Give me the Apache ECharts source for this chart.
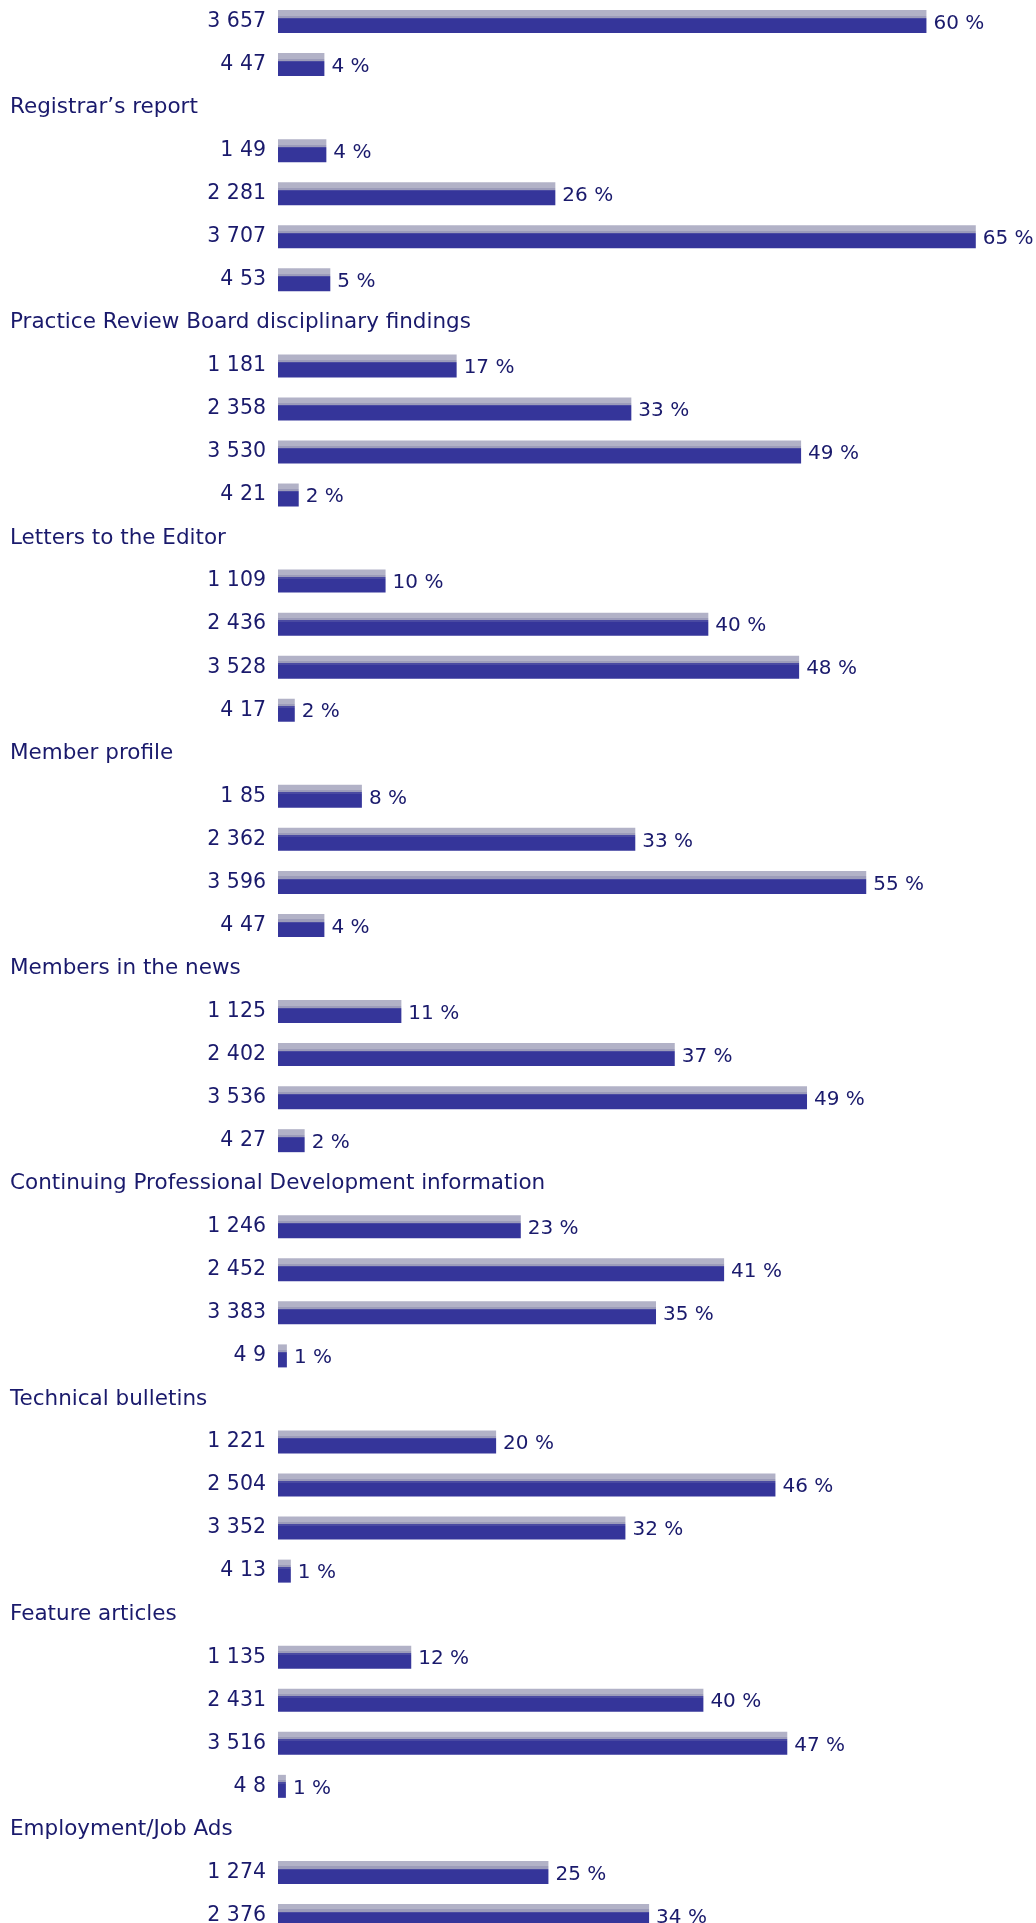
<!DOCTYPE html>
<html>
<head>
<meta charset="utf-8">
<title>Readership survey</title>
<script src="https://cdn.jsdelivr.net/npm/echarts@6/dist/echarts.min.js"></script>
<style>
  html, body { margin: 0; padding: 0; background: #fff; overflow: hidden; }
  /* chart is a little taller than the window, last row is cut like in the original */
  #bar_chart { width: 1036px; height: 1937px; }
</style>
</head>
<body>
<div id="bar_chart"></div>
<script>
// group titles (first group is cut off at the top, its title is not visible)
const groupTitles = [
  '',
  'Registrar’s report',
  'Practice Review Board disciplinary findings',
  'Letters to the Editor',
  'Member profile',
  'Members in the news',
  'Continuing Professional Development information',
  'Technical bulletins',
  'Feature articles',
  'Employment/Job Ads'
]
// answer number of each bar
const answerNos = [
  [3, 4],
  [1, 2, 3, 4],
  [1, 2, 3, 4],
  [1, 2, 3, 4],
  [1, 2, 3, 4],
  [1, 2, 3, 4],
  [1, 2, 3, 4],
  [1, 2, 3, 4],
  [1, 2, 3, 4],
  [1, 2]
]
// number of answers
const counts = [
  [657, 47],
  [49, 281, 707, 53],
  [181, 358, 530, 21],
  [109, 436, 528, 17],
  [85, 362, 596, 47],
  [125, 402, 536, 27],
  [246, 452, 383, 9],
  [221, 504, 352, 13],
  [135, 431, 516, 8],
  [274, 376]
]
// percent labels
const percents = [
  [60, 4],
  [4, 26, 65, 5],
  [17, 33, 49, 2],
  [10, 40, 48, 2],
  [8, 33, 55, 4],
  [11, 37, 49, 2],
  [23, 41, 35, 1],
  [20, 46, 32, 1],
  [12, 40, 47, 1],
  [25, 34]
]

const textColor = '#1a1a6c'
const font = 'DejaVu Sans'

// one row per title and per bar
let rows = []
groupTitles.forEach((t, g) => {
  if (t) {
    rows.push({ title: t })
  }
  counts[g].forEach((c, i) => {
    rows.push({ label: answerNos[g][i] + ' ' + c, value: c, pct: percents[g][i] })
  })
})

const barColor = new echarts.graphic.LinearGradient(0, 0, 0, 1, [
  { offset: 0, color: '#b2b2c7' },
  { offset: 0.24, color: '#b2b2c7' },
  { offset: 0.24, color: '#9c9cba' },
  { offset: 0.33, color: '#9c9cba' },
  { offset: 0.33, color: '#4a4aa2' },
  { offset: 0.39, color: '#4a4aa2' },
  { offset: 0.39, color: '#35359a' },
  { offset: 1, color: '#35359a' }
])

const option = {
  animation: false,
  grid: {
    left: 278,
    right: 0,
    top: 0,
    bottom: 0,
    outerBoundsMode: 'none'
  },
  xAxis: {
    type: 'value',
    min: 0,
    max: 768,
    show: false
  },
  yAxis: {
    type: 'category',
    inverse: true,
    data: rows.map((r, i) => String(i)),
    axisLine: { show: false },
    axisTick: { show: false },
    splitLine: { show: false },
    axisLabel: {
      interval: 0,
      align: 'left',
      margin: 268,
      color: textColor,
      fontFamily: font,
      fontSize: 20,
      formatter: function (v) {
        const r = rows[+v]
        return r.title ? '{t|' + r.title + '}' : '{n|' + r.label + '}'
      },
      rich: {
        t: { color: textColor, fontFamily: font, fontSize: 21.5, align: 'left' },
        n: { color: textColor, fontFamily: font, fontSize: 20.5, width: 256, align: 'right' }
      }
    }
  },
  series: [{
    type: 'bar',
    barWidth: 23,
    data: rows.map(r => (r.title ? '-' : r.value)),
    itemStyle: { color: barColor },
    label: {
      show: true,
      position: 'right',
      distance: 7,
      offset: [0, 2],
      color: textColor,
      fontFamily: font,
      fontSize: 20,
      formatter: function (p) {
        return rows[p.dataIndex].pct + ' %'
      }
    }
  }]
}

const myChart = echarts.init(document.getElementById('bar_chart'), null, { renderer: 'canvas' })
myChart.setOption(option)
</script>
</body>
</html>
